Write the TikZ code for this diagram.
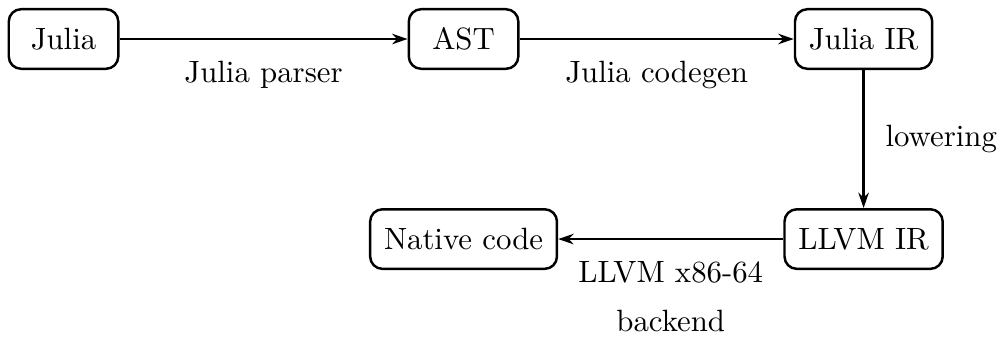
\documentclass[tikz,border=0pt]{standalone}
\usetikzlibrary{positioning, arrows.meta}
\begin{document}
\begin{tikzpicture}
\useasboundingbox (0,0) rectangle (11.48,-3.903);
\tikzset{stage/.style={rectangle, draw, thick, rounded corners, inner xsep=4.5pt, minimum width=1.25cm, minimum height=0.68cm}}
\node[stage](julia) at (0.725,-0.445){Julia};
\node[stage, right of = julia, node distance = 4.565cm](ast){AST};
\node[stage, right of = ast, node distance = 4.565cm](juliair){Julia IR};
\node[stage, below of = juliair, node distance = 2.283cm](llvmir){LLVM IR};
\node[stage, left of = llvmir, node distance = 4.565cm](native){Native code};

\draw[-{Stealth[length=5pt, width=3.4pt, inset=1.6pt]}, thick]
(julia) edge node[below=3.4pt]{Julia parser} (ast)
(ast) edge node[below=3.4pt]{Julia codegen} (juliair)
(juliair) edge node[right=3.4pt]{lowering} (llvmir)
(llvmir) edge node[below=3.4pt, align=center]{LLVM x86-64\\[4.2pt]backend} (native)
;
\end{tikzpicture}
\end{document}
